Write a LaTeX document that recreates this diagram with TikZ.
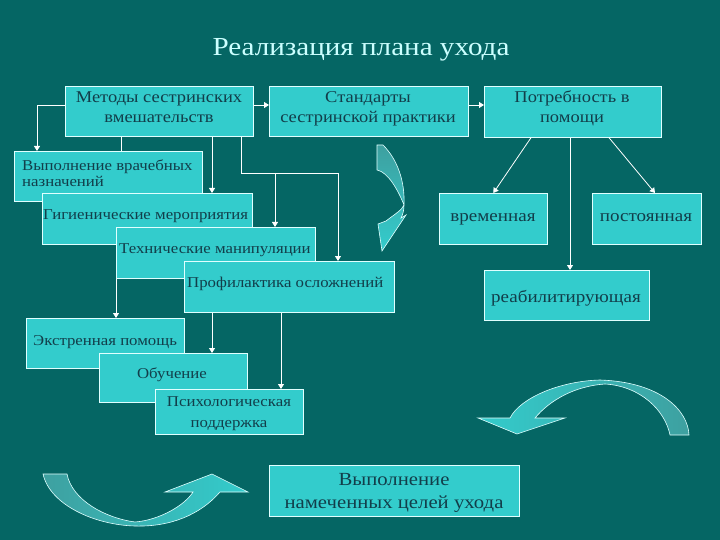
\documentclass[tikz,border=0pt]{standalone}
\usepackage{fontspec}
\setmainfont{Liberation Serif}[FakeStretch=1.12]
\usetikzlibrary{arrows.meta}
\definecolor{bgc}{RGB}{5,102,100}
\definecolor{boxc}{RGB}{51,204,204}
\definecolor{txtc}{RGB}{18,62,74}
\definecolor{titc}{RGB}{204,255,255}
\definecolor{edgec}{RGB}{225,255,255}
\definecolor{arrdark}{RGB}{62,160,160}
\begin{document}
\begin{tikzpicture}[x=1pt,y=-1pt,
  box/.style={draw=edgec, line width=0.7pt, fill=boxc, inner sep=0pt, anchor=north west},
  txt/.style={text=txtc, inner sep=0pt},
  arr/.style={draw=white, line width=0.8pt, -{Triangle[width=6pt,length=5pt]}},
  ln/.style={draw=white, line width=0.8pt},
  fs/.style={font=\fontsize{15}{17}\selectfont},
  fm/.style={font=\fontsize{16.5}{20}\selectfont},
  fl/.style={font=\fontsize{17}{20}\selectfont},
  curv/.style={draw=edgec, line width=0.6pt}]

\fill[bgc] (0,0) rectangle (720,540);
\useasboundingbox (0,0) rectangle (720,540);

% title
\node[text=titc, inner sep=0pt, anchor=base, font=\fontsize{26}{30}\selectfont] (title) at (361,56) {Реализация плана ухода};

% boxes
\node[box, minimum width=188pt, minimum height=50pt] (m1) at (65,86) {};
\node[box, minimum width=199pt, minimum height=50pt] (m2) at (269,86) {};
\node[box, minimum width=177pt, minimum height=51pt] (m3) at (484,86) {};
\node[box, minimum width=188pt, minimum height=50pt] (m4) at (14,151) {};
\node[box, minimum width=210pt, minimum height=51pt] (m5) at (42,193) {};
\node[box, minimum width=199pt, minimum height=51pt] (m6) at (116,227) {};
\node[box, minimum width=210pt, minimum height=51pt] (m7) at (184,261) {};
\node[box, minimum width=158pt, minimum height=50pt] (m8) at (26,318) {};
\node[box, minimum width=148pt, minimum height=49pt] (m9) at (99,353) {};
\node[box, minimum width=148pt, minimum height=45pt] (m10) at (155,389) {};
\node[box, minimum width=250pt, minimum height=51pt] (m11) at (269,465) {};
\node[box, minimum width=108pt, minimum height=51pt] (m12) at (439,193) {};
\node[box, minimum width=109pt, minimum height=51pt] (m13) at (592,193) {};
\node[box, minimum width=165pt, minimum height=50pt] (m14) at (484,270) {};

% texts (base anchor of a multi-line node = last line baseline)
\node[txt, fm, align=center, anchor=base] (t1) at (159,123) {Методы сестринских\\вмешательств};
\node[txt, fm, align=center, anchor=base] (t2) at (368,123) {Стандарты\\сестринской практики};
\node[txt, fm, align=center, anchor=base] (t3) at (572,123) {Потребность в\\помощи};
\node[txt, fs, align=left, anchor=base west] (t4) at (22,187) {Выполнение врачебных\\назначений};
\node[txt, fs, anchor=base west] (t5) at (43,219) {Гигиенические мероприятия};
\node[txt, fs, anchor=base west] (t6) at (119,253) {Технические манипуляции};
\node[txt, fs, anchor=base west] (t7) at (187,287) {Профилактика осложнений};
\node[txt, fs, anchor=base west] (t8) at (33,345) {Экстренная помощь};
\node[txt, fs, anchor=base] (t9) at (172,378) {Обучение};
\node[txt, font=\fontsize{15}{21}\selectfont, align=center, anchor=base] (t10) at (229,427) {Психологическая\\поддержка};
\node[txt, font=\fontsize{18.5}{23}\selectfont, align=center, anchor=base] (t11) at (394,508) {Выполнение\\намеченных целей ухода};
\node[txt, fl, anchor=base] (t12) at (493,222) {временная};
\node[txt, fl, anchor=base] (t13) at (646,222) {постоянная};
\node[txt, fl, anchor=base] (t14) at (566,302) {реабилитирующая};

% helper coordinates
\coordinate (r105) at (0,105);
\coordinate (v37) at (37,0);
\coordinate (v121) at (121,0);
\coordinate (v212) at (212,0);
\coordinate (v281) at (281,0);
\coordinate (j1) at (241,173);
\coordinate (j2) at (275,173);
\coordinate (j3) at (338,173);
\coordinate (d1) at (531,0);
\coordinate (d2) at (609,0);
\coordinate (d3) at (655,0);
\coordinate (v570) at (570,0);

% connectors
\draw[arr] (m1.east |- r105) -- (m2.west |- r105);
\draw[arr] (m2.east |- r105) -- (m3.west |- r105);
\draw[arr] (m1.west |- r105) -| (m4.north -| v37);
\draw[ln] (m1.south -| v121) -- (m4.north -| v121);
\draw[arr] (m1.south -| v212) -- (m5.north -| v212);
\draw[arr] (m1.south -| j1) -- (j1) -- (j3) -- (m7.north -| j3);
\draw[arr] (j2) -- (m6.north -| j2);
\draw[arr] (m6.south west) -- (m8.north -| m6.south west);
\draw[arr] (m7.south -| v212) -- (m9.north -| v212);
\draw[arr] (m7.south -| v281) -- (m10.north -| v281);
\draw[arr] (m3.south -| d1) -- (m12.north);
\draw[arr] (m3.south -| d2) -- (m13.north -| d3);
\draw[arr] (m3.south -| v570) -- (m14.north -| v570);

% curved block arrows
\path[curv, top color=arrdark, bottom color=boxc]
  (377,145) -- (383,145) .. controls (398,160) and (405,182) .. (404,205)
  .. controls (404,210) and (403,214) .. (401,218) -- (406,215) -- (382,251)
  -- (378,224) -- (386,221) .. controls (395,214) and (402,210) .. (404,205)
  .. controls (398,190) and (388,172) .. (377,170) -- cycle;

\path[curv, left color=arrdark, right color=boxc]
  (43,474) -- (67,474) .. controls (72,500) and (105,518) .. (135,522)
  .. controls (160,520) and (185,505) .. (193,492)
  -- (165,492) -- (212,474) -- (248,492) -- (220,492)
  .. controls (200,515) and (170,527) .. (135,526)
  .. controls (95,525) and (50,505) .. (43,474) -- cycle;

\path[curv, left color=boxc, right color=arrdark]
  (670,435) -- (689,435) .. controls (688,410) and (660,382) .. (600,380)
  .. controls (560,381) and (520,398) .. (510,418)
  -- (478,418) -- (517,434) -- (565,418) -- (535,418)
  .. controls (550,400) and (575,386) .. (605,384)
  .. controls (640,386) and (665,410) .. (670,435) -- cycle;
\end{tikzpicture}
\end{document}
